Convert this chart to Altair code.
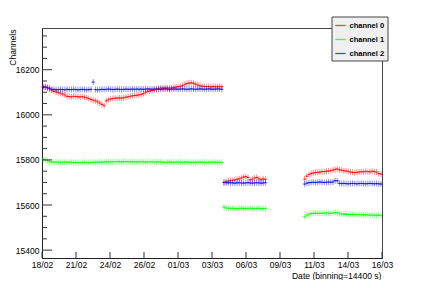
import altair as alt
import pandas as pd

channels = ["channel 0", "channel 1", "channel 2"]
colors = ["#ff0000", "#00ff00", "#0000ff"]

# first bin index of each data segment (binning = 14400 s = 1/6 day)
seg_start_bins = [0, 83, 120]

red_seg1 = [16125, 16122, 16120, 16118, 16110, 16104, 16102, 16098, 16096, 16092,
            16088, 16082, 16081, 16080, 16082, 16081, 16080, 16079, 16081, 16078,
            16076, 16072, 16068, 16065, 16062, 16058, 16052, 16046, 16040, 16062,
            16067, 16070, 16072, 16074, 16074, 16075, 16074, 16076, 16078, 16080,
            16082, 16084, 16086, 16087, 16088, 16090, 16094, 16100, 16104, 16106,
            16108, 16110, 16112, 16116, 16119, 16118, 16120, 16119, 16118, 16120,
            16121, 16123, 16125, 16126, 16130, 16135, 16139, 16141, 16142, 16140,
            16136, 16132, 16129, 16127, 16126, 16125, 16126, 16124, 16126, 16125,
            16124, 16126, 16125]
green_seg1 = [15803, 15800, 15797,
              15792, 15791, 15790, 15791, 15790, 15789, 15790, 15791, 15790, 15789,
              15790, 15789, 15788, 15789, 15788, 15789, 15790, 15789, 15788, 15789,
              15790, 15789, 15790, 15791, 15790, 15791, 15792, 15791, 15792, 15791,
              15792, 15793, 15792, 15791, 15792, 15793, 15792, 15791, 15792, 15791,
              15790, 15791, 15792, 15791, 15790, 15791, 15792, 15791, 15790, 15791,
              15792, 15791, 15790, 15789, 15790, 15791, 15790, 15789, 15790, 15791,
              15790, 15789, 15790, 15791, 15790, 15789, 15790, 15789, 15790, 15791,
              15790, 15789, 15790, 15789, 15790, 15791, 15790, 15789, 15790, 15789]
blue_seg1 = [16122, 16124, 16120, 16116,
             16112, 16113, 16111, 16112, 16113, 16112, 16111, 16113, 16112,
             16112, 16113, 16112, 16111, 16112, 16113, 16112, 16111, 16112, 16113,
             16145,
             16112, 16111, 16112, 16113, 16112, 16113, 16114, 16113, 16112,
             16113, 16114, 16113, 16112, 16113, 16114, 16113, 16113, 16114, 16113,
             16114, 16113, 16114, 16113, 16114, 16115, 16114, 16113, 16114, 16115,
             16114, 16113, 16114, 16115, 16114, 16113, 16114, 16115, 16114, 16113,
             16114, 16115, 16114, 16113, 16114, 16115, 16114, 16113, 16114, 16115,
             16114, 16113, 16114, 16115, 16114, 16113, 16114, 16115, 16114, 16113]

red_seg2 = [15700, 15703, 15706, 15708, 15710, 15712, 15714, 15716, 15720, 15724,
            15726, 15722, 15712, 15714, 15720, 15722, 15716, 15712, 15716, 15714]
green_seg2 = [15591, 15587, 15586, 15585, 15586, 15585, 15584, 15585, 15586, 15585,
              15584, 15585, 15586, 15585, 15584, 15585, 15586, 15585, 15584, 15585]
blue_seg2 = [15700, 15699, 15698, 15699, 15698, 15697, 15698, 15699, 15698, 15697,
             15698, 15699, 15698, 15697, 15698, 15699, 15698, 15697, 15698, 15699]

red_seg3 = [15715, 15728, 15735, 15740, 15742, 15744, 15745, 15746, 15748, 15748,
            15750, 15751, 15752, 15755, 15758, 15760, 15756, 15754, 15752, 15751,
            15749, 15746, 15745, 15743, 15745, 15746, 15748, 15747, 15749, 15748,
            15747, 15750, 15748, 15746, 15740, 15737]
green_seg3 = [15548, 15555, 15559,
              15562, 15563, 15564, 15563, 15564, 15563, 15564, 15565, 15564, 15563, 15564,
              15567, 15566,
              15561, 15560, 15559, 15560, 15559, 15558, 15559, 15558, 15557, 15558,
              15557, 15556, 15557, 15556, 15555, 15556, 15555, 15554, 15555, 15554]
blue_seg3 = [15693, 15697, 15699,
             15700, 15701, 15700, 15701, 15702, 15701, 15700, 15701, 15702, 15701, 15702,
             15708, 15707,
             15696, 15695, 15696, 15695, 15694, 15695, 15696, 15695, 15694, 15695,
             15696, 15695, 15694, 15695, 15696, 15695, 15694, 15695, 15694, 15693]

x_tick_days = [0, 2.6, 5.2, 7.8, 10.4, 13.0, 15.6, 18.2, 20.8, 23.4, 26.0]
x_tick_labels = ["18/02", "21/02", "24/02", "26/02", "01/03", "03/03",
                 "06/03", "09/03", "11/03", "14/03", "16/03"]
y_major = [15400, 15600, 15800, 16000, 16200]
y_minor = [v for v in range(15400, 16400, 50) if v % 200 != 0]

series = {
    "channel 0": [red_seg1, red_seg2, red_seg3],
    "channel 1": [green_seg1, green_seg2, green_seg3],
    "channel 2": [blue_seg1, blue_seg2, blue_seg3],
}
rows = []
for ch, segs in series.items():
    for start, vals in zip(seg_start_bins, segs):
        for i, v in enumerate(vals):
            b = start + i
            rows.append({"channel": ch, "x0": b / 6, "x1": (b + 1) / 6,
                         "xm": (b + 0.5) / 6, "value": v})
df = pd.DataFrame(rows)

FONT = "Liberation Sans"
xscale = alt.Scale(domain=[0, 26], nice=False, zero=False)
yscale = alt.Scale(domain=[15365, 16385], nice=False, zero=False)
cscale = alt.Scale(domain=channels, range=colors)

label_expr = "[" + ",".join("'%s'" % s for s in x_tick_labels) + "][round(datum.value/2.6)]"

xaxis = alt.Axis(values=x_tick_days, labelExpr=label_expr, ticks=False, tickSize=0,
                 grid=False, labelFlush=False, labelOverlap=False, labelPadding=2,
                 labelFont=FONT, labelFontSize=8.5, labelColor="#000",
                 title="Date (binning=14400 s)", titleFont=FONT, titleFontSize=8.6,
                 titleFontWeight="normal", titleColor="#000", titleAlign="right",
                 titleBaseline="alphabetic", titleX=339, titleY=20, titleAngle=0,
                 domainColor="#222", domainWidth=1)
yaxis = alt.Axis(values=y_major, ticks=False, tickSize=0, grid=False, labelFlush=False,
                 labelOverlap=False, labelPadding=3, format="d",
                 labelFont=FONT, labelFontSize=8.5, labelColor="#000",
                 title="Channels", titleFont=FONT, titleFontSize=8.6,
                 titleFontWeight="normal", titleColor="#000", titleAngle=270,
                 titleAlign="right", titleBaseline="middle", titleX=-29.5, titleY=1,
                 domainColor="#222", domainWidth=1)

legend = alt.Legend(
    title=None, orient="none", legendX=289.5, legendY=-11.5,
    fillColor="#f0f0f0", strokeColor="#444", padding=3, rowPadding=4,
    symbolType="stroke", symbolSize=110, symbolStrokeWidth=1.3,
    symbolOpacity=0.7, labelFont=FONT, labelFontSize=7.5,
    labelFontWeight="bold", labelOffset=3, labelColor="#000")

base = alt.Chart(df)

hbar = base.mark_rule(strokeWidth=1, opacity=0.85).encode(
    x=alt.X("x0:Q", scale=xscale, axis=xaxis),
    x2="x1:Q",
    y=alt.Y("value:Q", scale=yscale, axis=yaxis),
    color=alt.Color("channel:N", scale=cscale, legend=legend),
)
vtick = base.mark_tick(orient="vertical", size=6, thickness=1, opacity=0.45).encode(
    x=alt.X("xm:Q", scale=xscale, axis=xaxis),
    y=alt.Y("value:Q", scale=yscale, axis=yaxis),
    color=alt.Color("channel:N", scale=cscale, legend=legend),
)
htick = base.mark_tick(orient="horizontal", size=4, thickness=1, opacity=0.35).encode(
    x=alt.X("xm:Q", scale=xscale, axis=xaxis),
    y=alt.Y("value:Q", scale=yscale, axis=yaxis),
    color=alt.Color("channel:N", scale=cscale, legend=legend),
)

ymaj = alt.Chart(pd.DataFrame({"value": y_major})).mark_rule(color="#333", strokeWidth=1).encode(
    y=alt.Y("value:Q", scale=yscale, axis=yaxis), x=alt.value(0), x2=alt.value(10))
ymin = alt.Chart(pd.DataFrame({"value": y_minor})).mark_rule(color="#333", strokeWidth=1).encode(
    y=alt.Y("value:Q", scale=yscale, axis=yaxis), x=alt.value(0), x2=alt.value(5))
xmaj = alt.Chart(pd.DataFrame({"x0": x_tick_days})).mark_rule(color="#333", strokeWidth=1).encode(
    x=alt.X("x0:Q", scale=xscale, axis=xaxis), y=alt.value(230), y2=alt.value(224))

chart = alt.layer(hbar, vtick, htick, ymaj, ymin, xmaj).properties(
    width=340, height=230,
    padding={"left": 34, "top": 20, "right": 35, "bottom": 22},
    autosize=alt.AutoSizeParams(type="none"),
).configure_view(
    stroke="#444", strokeWidth=1
)

chart.save("out.html", embed_options={"renderer": "svg", "actions": False})
